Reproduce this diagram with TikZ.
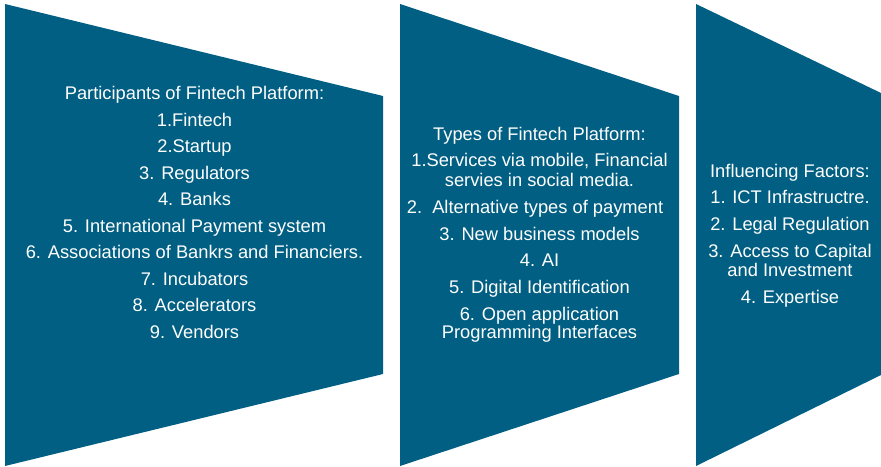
\documentclass[tikz,border=0pt]{standalone}
\usepackage{fontspec}
\setmainfont{Liberation Sans}
\definecolor{panelblue}{RGB}{0,95,130}
\begin{document}
\begin{tikzpicture}[x=1pt,y=-1pt,
  panel/.style={fill=panelblue, draw=none},
  txt/.style={text=white, anchor=base, inner sep=0pt,
    font=\fontsize{18.3}{20}\selectfont}]
\useasboundingbox (0,0) rectangle (881,466);

% three tapering panels
\fill[panel] (5,4) -- (383,96) -- (383,374) -- (5,466) -- cycle;
\fill[panel] (400,4) -- (679,96) -- (679,374) -- (400,466) -- cycle;
\fill[panel] (696,4) -- (881,93) -- (881,375) -- (696,466) -- cycle;

% participants
\foreach \t [count=\i from 0] in {
  {Participants of Fintech Platform:},
  {1.Fintech},
  {2.Startup},
  {3. Regulators},
  {4. Banks},
  {5. International Payment system},
  {6. Associations of Bankrs and Financiers.},
  {7. Incubators},
  {8. Accelerators},
  {9. Vendors}}
  \node[txt] (part\i) at (194.5, 99.5+26.55*\i) {\t};

% types
\node[txt] (type0) at (539.5,140.0) {Types of Fintech Platform:};
\node[txt] (type1) at (539.5,166.7) {1.Services via mobile, Financial};
\node[txt] (type1b) at (539.5,186.5) {servies in social media.};
\node[txt] (type2) at (535.0,213.3) {2.\ \ Alternative types of payment};
\node[txt] (type3) at (539.5,240.0) {3. New business models};
\node[txt] (type4) at (539.5,266.7) {4. AI};
\node[txt] (type5) at (539.5,293.3) {5. Digital Identification};
\node[txt] (type6) at (539.5,320.0) {6. Open application};
\node[txt] (type6b) at (539.5,338.8) {Programming Interfaces};

% factors
\node[txt] (fac0) at (790,177.3) {Influencing Factors:};
\node[txt] (fac1) at (790,203.8) {1. ICT Infrastructre.};
\node[txt] (fac2) at (790,230.4) {2. Legal Regulation};
\node[txt] (fac3) at (790,257.0) {3. Access to Capital};
\node[txt] (fac3b) at (790,276.5) {and Investment};
\node[txt] (fac4) at (790,303.3) {4. Expertise};
\end{tikzpicture}
\end{document}
